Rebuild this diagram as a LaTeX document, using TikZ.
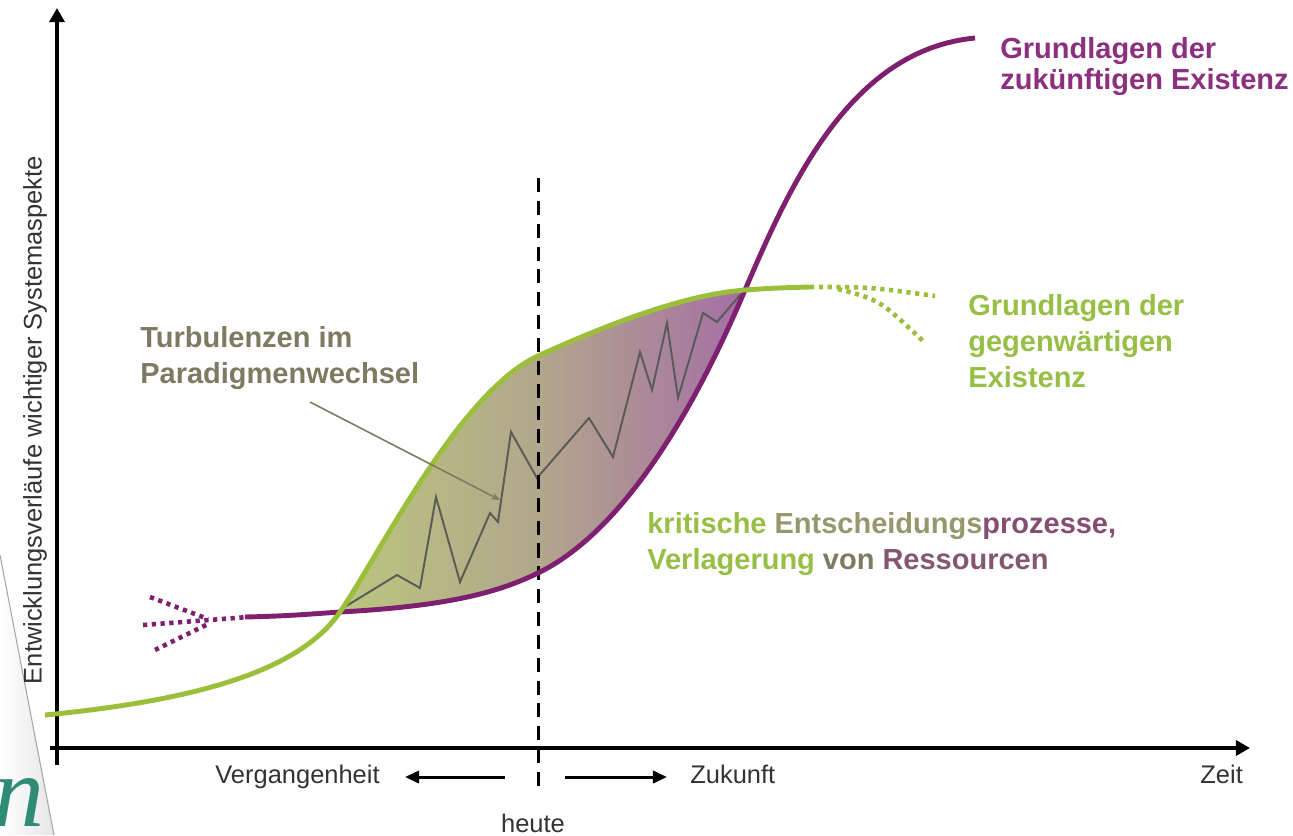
\documentclass[tikz,border=0pt]{standalone}
\usepackage{fontspec}
\setmainfont{Liberation Sans}
\newfontfamily\curlfont{Liberation Serif}
\usetikzlibrary{arrows.meta}

\definecolor{curvegreen}{RGB}{155,191,59}
\definecolor{curvepurple}{RGB}{126,31,111}
\definecolor{textgreen}{RGB}{151,190,69}
\definecolor{textpurple}{RGB}{139,47,126}
\definecolor{textolive}{RGB}{125,122,98}
\definecolor{fillgreen}{RGB}{186,198,126}
\definecolor{fillmid}{RGB}{178,166,140}
\definecolor{fillpurple}{RGB}{165,110,165}
\definecolor{zigzaggrey}{RGB}{90,90,88}
\definecolor{curlteal}{RGB}{46,139,116}

\tikzset{
  axisline/.style={line width=2.4pt,-{Triangle[length=8pt,width=8.5pt]}},
  timearrow/.style={line width=1.7pt,-{Triangle[length=8pt,width=7pt]}},
  greencurve/.style={curvegreen,line width=2.8pt},
  purplecurve/.style={curvepurple,line width=2.8pt},
  greendots/.style={curvegreen,line width=2.6pt,dash pattern=on 2.4pt off 2.6pt},
  purpledots/.style={curvepurple,line width=2.6pt,dash pattern=on 2.4pt off 2.6pt},
  boldlabel/.style={inner sep=0pt,align=left,font=\bfseries\fontsize{16.5}{20.5}\selectfont},
  axislabel/.style={inner sep=0pt,font=\fontsize{14.5}{17}\selectfont,text=black!80},
}

\begin{document}
\begin{tikzpicture}[x=0.02cm,y=-0.02cm]
\useasboundingbox (0,0) rectangle (1293,835);

% page edge
\shade[left color=white,right color=black!10] (0,555) -- (54,835) -- (0,835) -- cycle;
\draw[black!35,line width=0.6pt] (0,555) -- (54,835);
\node[anchor=base east,inner sep=0pt,text=curlteal,font=\curlfont\itshape\fontsize{58}{58}\selectfont] (curl) at (45,826) {n};

% points on the curves
\coordinate (gstart) at (45,715);
\coordinate (cross1) at (340,612);
\coordinate (gmid) at (540,355);
\coordinate (cross2) at (745,290);
\coordinate (gend) at (810,287);
\coordinate (pstart) at (245,617);
\coordinate (pmid) at (540,572);
\coordinate (pend) at (975,38);

% area between the curves
\shade[left color=fillgreen,right color=fillpurple,middle color=fillmid]
  (cross1) .. controls (380,554) and (460,390) .. (gmid)
  .. controls (600,328) and (680,295) .. (cross2)
  .. controls (690,420) and (620,532) .. (pmid)
  .. controls (500,592) and (450,606) .. (cross1) -- cycle;

% turbulence
\draw[zigzaggrey,line width=1.1pt,line join=miter]
  (343,608) -- (397,575) -- (420,588) -- (436,497) -- (460,582) -- (490,513)
  -- (498,522) -- (511,432) -- (537,478) -- (589,418) -- (613,457) -- (640,352)
  -- (652,390) -- (667,323) -- (678,398) -- (703,313) -- (717,322) -- (740,295);

% today
\draw[line width=1.7pt,dash pattern=on 8pt off 5pt] (538,178) -- (538,790);

% axes
\draw[axisline] (57,765) -- (57,8);
\draw[axisline] (50,748) -- (1250,748);

% purple curve
\draw[purpledots] (150,597) -- (208,619);
\draw[purpledots] (143,625) -- (248,617);
\draw[purpledots] (155,650) -- (208,624);
\draw[purplecurve] (pstart) .. controls (290,616) and (310,614) .. (cross1)
  .. controls (450,606) and (500,592) .. (pmid)
  .. controls (620,532) and (690,420) .. (cross2)
  .. controls (790,185) and (850,50) .. (pend);

% green curve
\draw[greencurve] (gstart) .. controls (200,700) and (300,670) .. (cross1)
  .. controls (380,554) and (460,390) .. (gmid)
  .. controls (600,328) and (680,295) .. (cross2)
  .. controls (775,288) .. (gend);
\draw[greendots] (gend) .. controls (870,287) .. (935,296);
\draw[greendots] (838,289) .. controls (880,300) .. (925,343);

% labels
\node[boldlabel,text=textpurple,anchor=north west,font=\bfseries\fontsize{16.5}{17.6}\selectfont] (future) at (1000,37) {Grundlagen der\\zukünftigen Existenz};
\node[boldlabel,text=textgreen,anchor=north west] (present) at (968,294) {Grundlagen der\\gegenwärtigen\\Existenz};
\node[boldlabel,text=textolive,anchor=north west] (turb) at (140,326) {Turbulenzen im\\Paradigmenwechsel};
\node[boldlabel,anchor=north west] (crit) at (647,512) {\textcolor{textgreen}{kritische} \textcolor{fillgreen!40!textolive}{Entscheidungs}\textcolor{textpurple!60!textolive}{prozesse,}\\\textcolor{textgreen}{Verlagerung} \textcolor{textolive}{von} \textcolor{textpurple!45!textolive}{Ressourcen}};

\coordinate (ptrtail) at (310,402);
\coordinate (ptrtip) at (500,500);
\draw[textolive,line width=0.9pt,-{Stealth[length=5pt,width=4pt]}] (ptrtail) -- (ptrtip);

\node[axislabel,anchor=base west] (past) at (215,783) {Vergangenheit};
\node[axislabel,anchor=base west] (coming) at (690,783) {Zukunft};
\node[axislabel,anchor=base] (today) at (533,832) {heute};
\node[axislabel,anchor=base west] (time) at (1200,783) {Zeit};
\node[axislabel,rotate=90] (aspects) at (35,420) {Entwicklungsverläufe wichtiger Systemaspekte};

\draw[timearrow] (505,777) -- (405,777);
\draw[timearrow] (565,777) -- (667,777);

\end{tikzpicture}
\end{document}
